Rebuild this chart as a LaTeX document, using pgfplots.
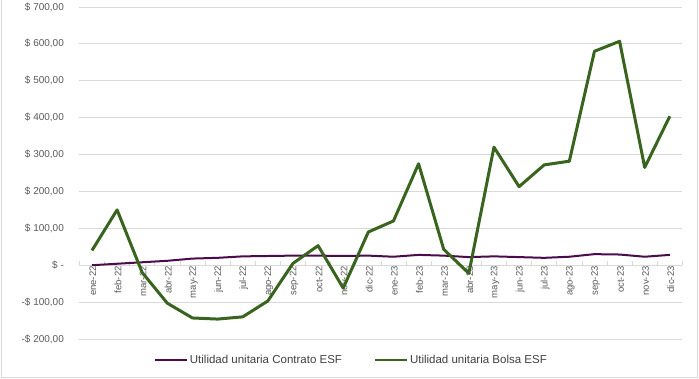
\documentclass[border=0pt]{standalone}
\usepackage{pgfplots}
\pgfplotsset{compat=1.18}
\usepackage{fontspec}
\setmainfont{Liberation Sans}
\definecolor{grn}{RGB}{56,100,30}
\definecolor{pur}{RGB}{75,10,75}
\definecolor{txt}{RGB}{89,89,89}
\definecolor{grd}{RGB}{217,217,217}
\pgfplotstableread{
x contrato bolsa
0 0 40
1 4 150
2 8 -20
3 12 -103
4 18 -143
5 20 -146
6 24 -140
7 25 -97
8 26 5
9 26 53
10 25 -62
11 26 90
12 23 120
13 28 275
14 26 43
15 22 -22
16 24 320
17 22 213
18 20 272
19 23 282
20 30 580
21 29 607
22 23 265
23 28 404
}\datatable
\begin{document}
\begin{tikzpicture}
\useasboundingbox (-79.4pt,-40pt) rectangle (619.6pt,339pt);
\draw[grd, line width=0.8pt] (-78.4pt,-38.5pt) rectangle (618pt,345pt);
\begin{axis}[
  at={(0pt,0pt)}, anchor=south west,
  scale only axis, width=603pt, height=332pt,
  xmin=-0.5, xmax=23.5, ymin=-200, ymax=700,
  axis x line*=middle, axis y line*=left,
  y axis line style={draw=none},
  x axis line style={grd, line width=0.8pt},
  xtick=data,
  xticklabels={ene-22,feb-22,mar-22,abr-22,may-22,jun-22,jul-22,ago-22,sep-22,oct-22,nov-22,dic-22,ene-23,feb-23,mar-23,abr-23,may-23,jun-23,jul-23,ago-23,sep-23,oct-23,nov-23,dic-23},
  minor xtick={-0.5,0.5,...,23.5},
  major tick length=0pt, minor tick length=4pt,
  minor x tick style={grd, line width=0.8pt},
  xticklabel style={rotate=90, anchor=east, font=\fontsize{9.5}{11}\selectfont, text=txt, inner sep=1pt, yshift=-1pt},
  ytick={-200,-100,0,100,200,300,400,500,600,700},
  yticklabels={{-\$ 200,00},{-\$ 100,00},{\$ -},{\$ 100,00},{\$ 200,00},{\$ 300,00},{\$ 400,00},{\$ 500,00},{\$ 600,00},{\$ 700,00}},
  yticklabel style={font=\fontsize{10}{12}\selectfont, text=txt, anchor=east, xshift=-12pt},
  ymajorgrids, major grid style={grd, line width=0.8pt},
  legend columns=2,
  legend style={at={(0.451,-0.063)}, anchor=center, draw=none, fill=none,
    font=\fontsize{11.5}{13}\selectfont, text={rgb,255:red,64;green,64;blue,64},
    /tikz/every even column/.append style={column sep=30pt}},
  legend cell align=left,
  legend image code/.code={\draw[#1, line width=2pt] (0pt,0pt) -- (32pt,0pt);},
  clip=false,
]
\addplot[pur, line width=2pt, line join=round] table[x=x, y=contrato] {\datatable};
\addlegendentry{Utilidad unitaria Contrato ESF}
\addplot[grn, line width=3pt, line join=round] table[x=x, y=bolsa] {\datatable};
\addlegendentry{Utilidad unitaria Bolsa ESF}
\end{axis}
\end{tikzpicture}
\end{document}
